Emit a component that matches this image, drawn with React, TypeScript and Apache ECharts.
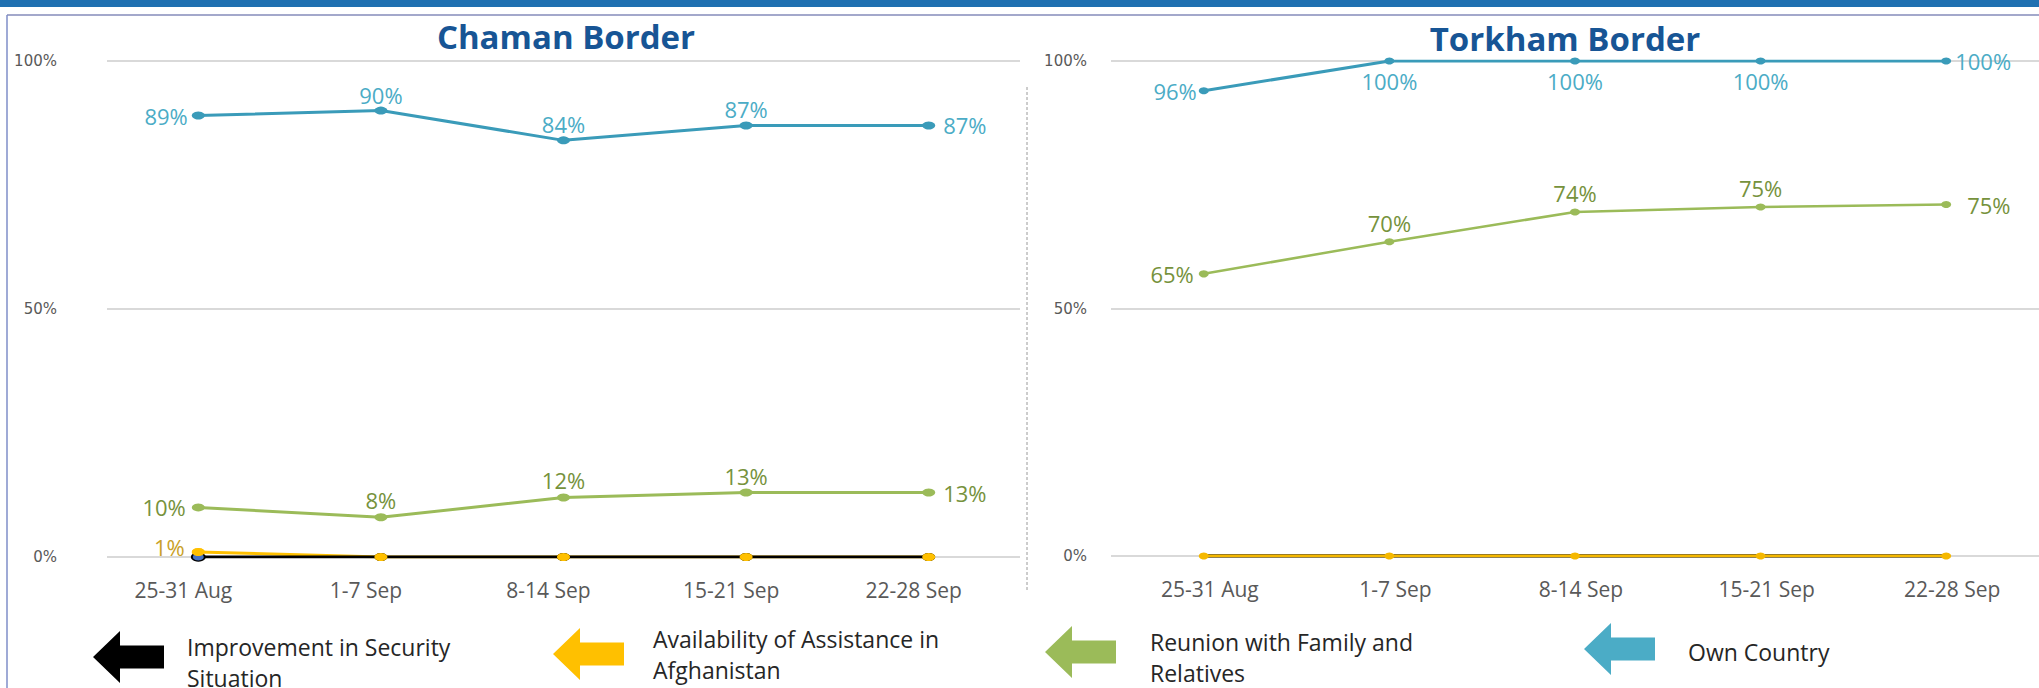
import React, { useEffect, useRef } from 'react';
import * as echarts from 'echarts';

// ---------- data ----------
const weeks = ['25-31 Aug', '1-7 Sep', '8-14 Sep', '15-21 Sep', '22-28 Sep'];
const yMin = 0;
const yMax = 100;
const yStep = 50;

const nameSecurity = 'Improvement in Security Situation';
const nameAssistance = 'Availability of Assistance in Afghanistan';
const nameReunion = 'Reunion with Family and Relatives';
const nameOwn = 'Own Country';

const legendSecurityText = 'Improvement in Security\nSituation';
const legendAssistanceText = 'Availability of Assistance in\nAfghanistan';
const legendReunionText = 'Reunion with Family and\nRelatives';
const legendOwnText = 'Own Country';

// Chaman Border
const chamanOwn = [89, 90, 84, 87, 87];
const chamanOwnLabels = ['89%', '90%', '84%', '87%', '87%'];
const chamanReunion = [10, 8, 12, 13, 13];
const chamanReunionLabels = ['10%', '8%', '12%', '13%', '13%'];
const chamanAssistance = [1, 0, 0, 0, 0];
const chamanAssistanceLabels = ['1%', '', '', '', ''];
const chamanSecurity = [0, 0, 0, 0, 0];

// Torkham Border (plotted positions as drawn; label texts as printed)
const torkhamOwn = [94, 100, 100, 100, 100];
const torkhamOwnLabels = ['96%', '100%', '100%', '100%', '100%'];
const torkhamReunion = [57, 63.5, 69.5, 70.5, 71];
const torkhamReunionLabels = ['65%', '70%', '74%', '75%', '75%'];
const torkhamAssistance = [0, 0, 0, 0, 0];
const torkhamSecurity = [0, 0, 0, 0, 0];

// ---------- styles ----------
const C_OWN_LINE = '#3a9bb9';
const C_OWN_LABEL = '#4bacc6';
const C_OWN_LEGEND = '#4bacc6';
const C_REUNION = '#9bbb59';
const C_REUNION_LABEL = '#76923c';
const C_ASSIST = '#ffc000';
const C_ASSIST_LABEL = '#c9a128';
const C_SECURITY = '#000000';
const C_SECURITY_FIRST = '#4472c4';
const C_TITLE = '#175595';
const C_AXIS_TEXT = '#595959';
const C_GRID = '#d9d9d9';
const LABEL_FONT = 'Open Sans';

type Pos = 'left' | 'right' | 'top' | 'bottom';

function items(values: number[], labels: string[] | null, pos: Pos[], dist: number[], extra?: any[]) {
  return values.map((v, i) => {
    const it: any = { value: v };
    const ex = (extra && extra[i]) || {};
    if (labels) {
      it.label = {
        show: labels[i] !== '',
        formatter: labels[i],
        position: pos[i],
        distance: dist[i],
        ...(ex.label || {}),
      };
    }
    if (ex.itemStyle) it.itemStyle = ex.itemStyle;
    return it;
  });
}

function lineSeries(
  name: string,
  grid: number,
  data: any[],
  color: string,
  labelColor: string,
  width: number,
  symbolSize: number[] | number,
  z: number,
  showSymbol = true
) {
  return {
    name,
    type: 'line',
    xAxisIndex: grid,
    yAxisIndex: grid,
    data,
    z,
    symbol: 'circle',
    symbolSize,
    showSymbol,
    lineStyle: { color, width },
    itemStyle: { color, opacity: 1 },
    label: {
      show: false,
      color: labelColor,
      fontFamily: LABEL_FONT,
      fontSize: 22,
    },
    emphasis: { disabled: true },
  };
}

const arrowPts = [
  [0, 26],
  [27, 0],
  [27, 14.5],
  [71, 14.5],
  [71, 37.5],
  [27, 37.5],
  [27, 52],
];

export default function App() {
  const ref = useRef<HTMLDivElement>(null);

  useEffect(() => {
    if (!ref.current) return;
    const chart = echarts.init(ref.current, null, { renderer: 'svg' });

    const xAxisBase = (grid: number, padding: number[]) => ({
      type: 'category',
      gridIndex: grid,
      data: weeks,
      boundaryGap: true,
      axisLine: { show: false },
      axisTick: { show: false },
      axisLabel: {
        margin: 22,
        color: C_AXIS_TEXT,
        fontFamily: LABEL_FONT,
        fontSize: 21,
        interval: 0,
        padding,
      },
    });
    const yAxisBase = (grid: number, margin: number) => ({
      type: 'value',
      gridIndex: grid,
      min: yMin,
      max: yMax,
      interval: yStep,
      axisLine: { show: false },
      axisTick: { show: false },
      axisLabel: {
        formatter: '{value}%',
        margin,
        color: C_AXIS_TEXT,
        fontFamily: 'DejaVu Sans',
        fontSize: 15,
      },
      splitLine: { lineStyle: { color: C_GRID, width: 2 } },
    });

    const series: any[] = [
      // ---- Chaman ----
      lineSeries(
        nameAssistance, 0,
        items(chamanAssistance, chamanAssistanceLabels, ['left', 'top', 'top', 'top', 'right'], [7, 2, 2, 2, 8],
          [{ label: { offset: [0, -5] } }]),
        C_ASSIST, C_ASSIST_LABEL, 3, [13, 8], 2
      ),
      lineSeries(
        nameSecurity, 0,
        items(chamanSecurity, null, [], [],
          [{ itemStyle: { color: C_SECURITY_FIRST, borderColor: '#000', borderWidth: 1.5 } }]),
        C_SECURITY, C_SECURITY, 3, [13, 8], 3
      ),
      {
        name: nameAssistance,
        type: 'scatter',
        xAxisIndex: 0,
        yAxisIndex: 0,
        data: chamanAssistance,
        symbol: 'circle',
        symbolSize: [13, 8],
        itemStyle: { color: C_ASSIST, opacity: 1 },
        z: 4,
        emphasis: { disabled: true },
      },
      lineSeries(
        nameReunion, 0,
        items(chamanReunion, chamanReunionLabels, ['left', 'top', 'top', 'top', 'right'], [6, 2, 2, 2, 8]),
        C_REUNION, C_REUNION_LABEL, 3, [13, 8], 5
      ),
      lineSeries(
        nameOwn, 0,
        items(chamanOwn, chamanOwnLabels, ['left', 'top', 'top', 'top', 'right'], [4, 1, 1, 1, 8]),
        C_OWN_LINE, C_OWN_LABEL, 3, [13, 8], 6
      ),
      // ---- Torkham ----
      lineSeries(nameSecurity, 1, items(torkhamSecurity, null, [], []), C_SECURITY, C_SECURITY, 3.5, 1, 2, false),
      lineSeries(nameAssistance, 1, items(torkhamAssistance, null, [], []), '#f5b800', C_ASSIST_LABEL, 3, [10, 7], 3),
      lineSeries(
        nameReunion, 1,
        items(torkhamReunion, torkhamReunionLabels, ['left', 'top', 'top', 'top', 'right'], [5, 4, 4, 5, 16]),
        C_REUNION, C_REUNION_LABEL, 2.5, [10, 7], 5
      ),
      lineSeries(
        nameOwn, 1,
        items(torkhamOwn, torkhamOwnLabels, ['left', 'bottom', 'bottom', 'bottom', 'right'], [2, 5, 5, 5, 4]),
        C_OWN_LINE, C_OWN_LABEL, 3, [10, 7], 6
      ),
    ];

    const legendText = (x: number, y: number, text: string) => ({
      type: 'text',
      x,
      y,
      style: {
        text,
        fill: '#262626',
        font: '23px "Open Sans"',
        lineHeight: 31,
        textAlign: 'left',
        textVerticalAlign: 'middle',
      },
    });
    const arrow = (x: number, y: number, fill: string) => ({
      type: 'polygon',
      x,
      y,
      shape: { points: arrowPts },
      style: { fill },
    });

    const titleStyle = { color: C_TITLE, fontFamily: LABEL_FONT, fontWeight: 'bold', fontSize: 33 };

    const option: any = {
      animation: false,
      backgroundColor: '#ffffff',
      title: [
        { text: 'Chaman Border', left: 566, top: 20, padding: 0, textAlign: 'center', textStyle: titleStyle },
        { text: 'Torkham Border', left: 1565, top: 22, padding: 0, textAlign: 'center', textStyle: titleStyle },
      ],
      grid: [
        { left: 107, top: 61, width: 913, height: 496, containLabel: false },
        { left: 1111, top: 61, width: 928, height: 495, containLabel: false },
      ],
      xAxis: [xAxisBase(0, [0, 30, 0, 0]), xAxisBase(1, [0, 0, 0, 12])],
      yAxis: [yAxisBase(0, 50), yAxisBase(1, 24)],
      series,
      graphic: [
        { type: 'rect', shape: { x: 0, y: 0, width: 2039, height: 7 }, style: { fill: '#1f70b1' }, z: 10 },
        { type: 'line', shape: { x1: 7, y1: 15, x2: 2039, y2: 15 }, style: { stroke: '#a3a8cb', lineWidth: 2 } },
        { type: 'line', shape: { x1: 7, y1: 15, x2: 7, y2: 688 }, style: { stroke: '#7f8ec8', lineWidth: 1.5 } },
        {
          type: 'line',
          shape: { x1: 1027, y1: 87, x2: 1027, y2: 591 },
          style: { stroke: '#9a9a9a', lineWidth: 1, lineDash: [3, 2] },
        },
        arrow(93, 631, C_SECURITY),
        legendText(187, 662, legendSecurityText),
        arrow(553, 628, C_ASSIST),
        legendText(653, 654.5, legendAssistanceText),
        arrow(1045, 626, C_REUNION),
        legendText(1150, 657, legendReunionText),
        arrow(1584, 623, C_OWN_LEGEND),
        legendText(1688, 652, legendOwnText),
      ],
    };

    chart.setOption(option);
    return () => chart.dispose();
  }, []);

  return (
    <div
      ref={ref}
      style={{ position: 'absolute', left: 0, top: 0, width: 2039, height: 688, background: '#fff' }}
    />
  );
}
